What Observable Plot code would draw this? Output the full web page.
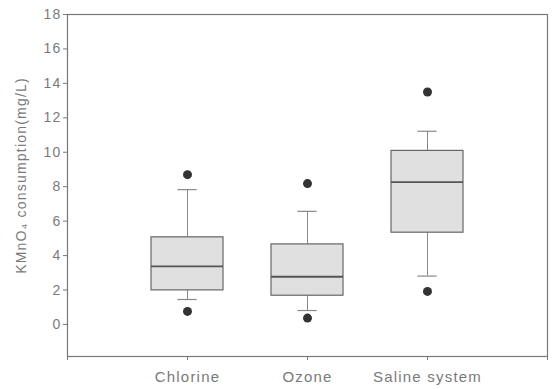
<!DOCTYPE html>
<html>
<head>
<meta charset="utf-8">
<script src="https://cdn.jsdelivr.net/npm/d3@7"></script>
<script src="https://cdn.jsdelivr.net/npm/@observablehq/plot@0.6"></script>
<style>
  html, body { margin: 0; padding: 0; background: #fff; }
  svg { display: block; }
  svg text { letter-spacing: 1.2px; }
</style>
</head>
<body>
<div id="chart"></div>
<script>
const categories = ["Chlorine", "Ozone", "Saline system"];
const positions = [1, 2, 3];
const whiskerLow = [1.45, 0.81, 2.81];
const q1 = [1.98, 1.67, 5.33];
const median = [3.37, 2.77, 8.27];
const q3 = [5.06, 4.65, 10.08];
const whiskerHigh = [7.83, 6.57, 11.22];
const outlierLow = [0.76, 0.37, 1.92];
const outlierHigh = [8.7, 8.18, 13.5];
const yTicks = [0, 2, 4, 6, 8, 10, 12, 14, 16, 18];
const yLabel = "KMnO\u2084 consumption(mg/L)";

const rows = categories.map((c, i) => ({
  cat: c, x: positions[i], lo: whiskerLow[i], q1: q1[i], med: median[i],
  q3: q3[i], hi: whiskerHigh[i]
}));
const outliers = categories.flatMap((c, i) => [
  {x: positions[i], y: outlierLow[i]},
  {x: positions[i], y: outlierHigh[i]}
]);
const halfBox = 0.3, halfCap = 0.08;
const ink = "#7a7a7a";

const chart = Plot.plot({
  width: 552,
  height: 389,
  marginLeft: 67,
  marginRight: 5,
  marginTop: 14,
  marginBottom: 33,
  style: {fontFamily: "'Liberation Sans', Arial, sans-serif", fontSize: "14px", color: ink, background: "#fff"},
  x: {type: "linear", domain: [0, 4]},
  y: {domain: [-1.86, 18]},
  marks: [
    Plot.ruleX(rows, {x: "x", y1: "q3", y2: "hi", stroke: "#888", strokeWidth: 1}),
    Plot.ruleX(rows, {x: "x", y1: "lo", y2: "q1", stroke: "#888", strokeWidth: 1}),
    Plot.ruleY(rows, {y: "hi", x1: d => d.x - halfCap, x2: d => d.x + halfCap, stroke: "#888", strokeWidth: 1.2}),
    Plot.ruleY(rows, {y: "lo", x1: d => d.x - halfCap, x2: d => d.x + halfCap, stroke: "#888", strokeWidth: 1.2}),
    Plot.rect(rows, {x1: d => d.x - halfBox, x2: d => d.x + halfBox, y1: "q1", y2: "q3", fill: "#e0e0e0", stroke: "#666", strokeWidth: 1.2}),
    Plot.ruleY(rows, {y: "med", x1: d => d.x - halfBox, x2: d => d.x + halfBox, stroke: "#555", strokeWidth: 1.8}),
    Plot.dot(outliers, {x: "x", y: "y", r: 4.5, fill: "#333", stroke: "none"}),
    Plot.frame({stroke: "#777", strokeWidth: 1.2}),
    Plot.axisY({ticks: yTicks, tickSize: 4, tickPadding: 2, label: null, color: ink, fontSize: 14}),
    Plot.axisX({ticks: [0, 1, 2, 3, 4], tickSize: 4, tickPadding: 11, label: null, color: ink, fontSize: 15,
      tickFormat: v => (v >= 1 && v <= 3 && Number.isInteger(v)) ? categories[v - 1] : ""}),
    Plot.text([yLabel], {text: d => d, frameAnchor: "left", textAnchor: "middle", dx: -46, dy: -10, rotate: -90, fill: ink, fontSize: 14})
  ]
});
document.getElementById("chart").appendChild(chart);
</script>
</body>
</html>
